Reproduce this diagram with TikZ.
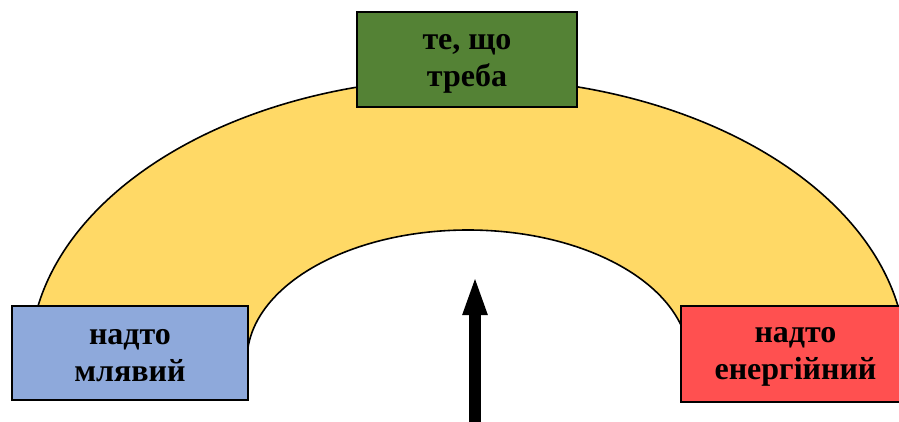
\documentclass[tikz,border=0pt]{standalone}
\usepackage{fontspec}
\setmainfont{Liberation Serif}
\usetikzlibrary{arrows.meta}
\definecolor{archfill}{HTML}{FFD966}
\definecolor{bluefill}{HTML}{8EA9DB}
\definecolor{redfill}{HTML}{FF5050}
\definecolor{greenfill}{HTML}{548235}
\tikzset{
  statebox/.style={draw=black, line width=1.4pt, rectangle, inner sep=0pt},
  statetext/.style={align=center, inner sep=0pt, font=\fontsize{32}{37}\selectfont\bfseries, text=black},
}
\begin{document}
\begin{tikzpicture}[x=1pt,y=-1pt]
\useasboundingbox (0,0) rectangle (899,421);
\clip (0,0) rectangle (899,421);
% arch
\filldraw[fill=archfill, draw=black, line width=1.6pt]
  (30,360) arc[start angle=180, end angle=360, x radius=438, y radius=282]
  -- (689,360) arc[start angle=360, end angle=180, x radius=221, y radius=130]
  -- cycle;
% boxes
\node[statebox, fill=bluefill, minimum width=236, minimum height=94] (slow) at (130,353) {};
\node[statebox, fill=redfill, minimum width=229, minimum height=96] (fast) at (795.5,354) {};
\node[statebox, fill=greenfill, minimum width=220, minimum height=95] (right) at (467,59.5) {};
\node[statetext] (slowtext) at ([yshift=-3pt]slow.center) {надто\\млявий};
\node[statetext] (fasttext) at ([yshift=-3pt]fast.center) {надто\\енергійний};
\node[statetext] (righttext) at ([yshift=-4pt]right.center) {те, що\\треба};
% arrow
\coordinate (arrbase) at (475,425);
\coordinate (arrtip) at (475,275);
\draw[line width=12pt, -{Triangle[width=22pt,length=40pt]}] (arrbase) -- (arrtip);
\end{tikzpicture}
\end{document}
